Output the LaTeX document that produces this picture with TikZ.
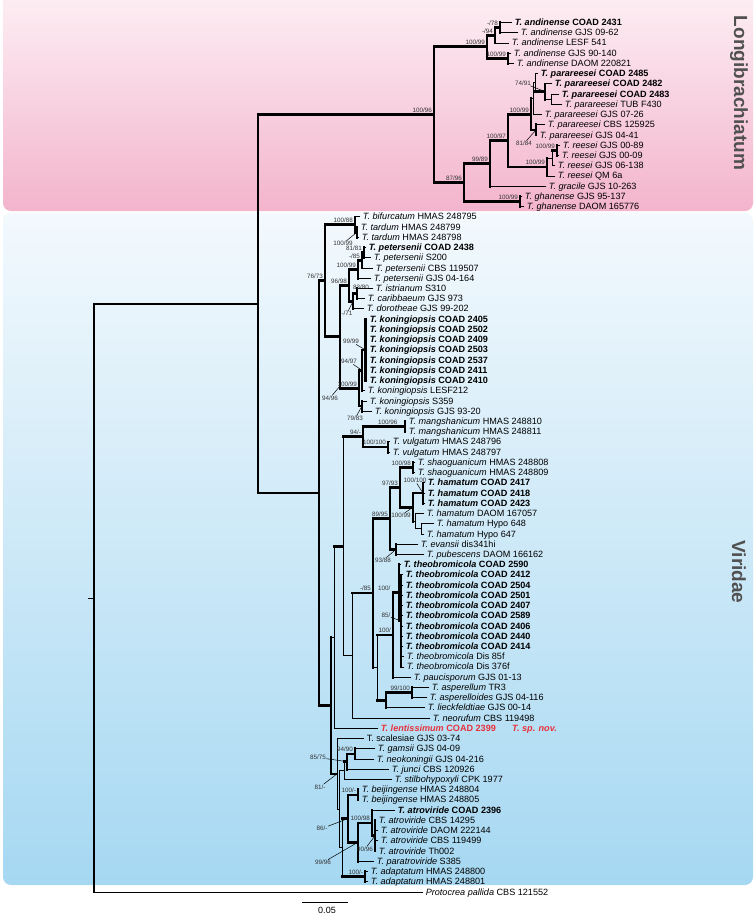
\documentclass[tikz,border=0pt]{standalone}
\usepackage{fontspec}
\setmainfont{Liberation Sans}
\usetikzlibrary{calc}
\definecolor{pinkTop}{HTML}{FDF0F5}
\definecolor{pinkBot}{HTML}{F3B4CC}
\definecolor{blueTop}{HTML}{F3F9FD}
\definecolor{blueBot}{HTML}{A6D8F2}
\definecolor{novred}{HTML}{E8313B}
\definecolor{supgray}{HTML}{333333}
\definecolor{grplab}{HTML}{505050}
\newcommand\tipn[4]{\coordinate (#1) at (#2,{22.5+10.23*#3});\node[tiplab] (#1l) at ([yshift=-3pt]#1) {#4};}
\newcommand\inode[4]{\coordinate (m#1) at ($(#3)!0.5!(#4)$);\coordinate (#1) at (#2,0|-m#1);}
\newcommand\vrt[4]{\draw[#1] (#2 |- #3) -- (#2 |- #4);}
\newcommand\hor[3]{\draw[#1] (#2 |- #3) -- (#3);}
\newcommand\slab[2]{\node[slabel,anchor=base east] (l#1) at ([xshift=-1.5pt,yshift=2.2pt]#1) {#2};}
\newcommand\slabL[5]{\node[slabel] (l#1) at (#2,#3) {#4};\draw[lead] (l#1) -- (#5);}
\tikzset{
 tb/.style={line width=0.9pt,line cap=rect},
 kb/.style={line width=2.7pt,line cap=rect},
 mb/.style={line width=1.6pt,line cap=rect},
 tiplab/.style={anchor=base west,inner sep=0pt,xshift=2.6pt,font=\fontsize{9.1}{10}\selectfont},
 slabel/.style={inner sep=0.4pt,font=\fontsize{6.3}{7}\selectfont,text=supgray},
 lead/.style={line width=0.5pt,shorten >=0.8pt},
 grp/.style={font=\fontsize{19}{21}\selectfont\bfseries,text=grplab},
}
\begin{document}
\begin{tikzpicture}[x=1pt,y=-1pt]
\useasboundingbox (0,0) rectangle (755,914);
\fill[white] (0,0) rectangle (755,914);
\shade[top color=pinkTop,bottom color=pinkBot,rounded corners=8pt] (3,-12) rectangle (753,211);
\shade[top color=blueTop,bottom color=blueBot,rounded corners=8pt] (3,212.5) rectangle (753,885);
\node[grp,rotate=-90] (glong) at (739,93) {Longibrachiatum};
\node[grp,rotate=-90] (gvir) at (739,572) {Viridae};
% ---- tips: Longibrachiatum
\tipn{a0}{512}{0}{\textbf{\textit{T. andinense} COAD 2431}}
\tipn{a1}{518}{1}{\textit{T. andinense} GJS 09-62}
\tipn{a2}{509}{2}{\textit{T. andinense} LESF 541}
\tipn{a3}{511}{3}{\textit{T. andinense} GJS 90-140}
\tipn{a4}{514}{4}{\textit{T. andinense} DAOM 220821}
\tipn{p0}{538}{5}{\textbf{\textit{T. parareesei} COAD 2485}}
\tipn{p1}{552}{6}{\textbf{\textit{T. parareesei} COAD 2482}}
\tipn{p2}{559}{7}{\textbf{\textit{T. parareesei} COAD 2483}}
\tipn{p3}{562}{8}{\textit{T. parareesei} TUB F430}
\tipn{p4}{542}{9}{\textit{T. parareesei} GJS 07-26}
\tipn{p5}{545}{10}{\textit{T. parareesei} CBS 125925}
\tipn{p6}{537}{11}{\textit{T. parareesei} GJS 04-41}
\tipn{r0}{560}{12}{\textit{T. reesei} GJS 00-89}
\tipn{r1}{559}{13}{\textit{T. reesei} GJS 00-09}
\tipn{r2}{555}{14}{\textit{T. reesei} GJS 06-138}
\tipn{r3}{555}{15}{\textit{T. reesei} QM 6a}
\tipn{g0}{546}{16}{\textit{T. gracile} GJS 10-263}
\tipn{h0}{522}{17}{\textit{T. ghanense} GJS 95-137}
\tipn{h1}{524}{18}{\textit{T. ghanense} DAOM 165776}
% ---- tips: Viridae
\tipn{v19}{360}{19}{\textit{T. bifurcatum} HMAS 248795}
\tipn{v20}{358}{20}{\textit{T. tardum} HMAS 248799}
\tipn{v21}{359}{21}{\textit{T. tardum} HMAS 248798}
\tipn{v22}{366}{22}{\textbf{\textit{T. petersenii} COAD 2438}}
\tipn{v23}{371}{23}{\textit{T. petersenii} S200}
\tipn{v24}{373}{24}{\textit{T. petersenii} CBS 119507}
\tipn{v25}{371}{25}{\textit{T. petersenii} GJS 04-164}
\tipn{v26}{373}{26}{\textit{T. istrianum} S310}
\tipn{v27}{365}{27}{\textit{T. caribbaeum} GJS 973}
\tipn{v28}{364}{28}{\textit{T. dorotheae} GJS 99-202}
\foreach \s [count=\k from 29] in {2405,2502,2409,2503,2537,2411,2410}
  {\tipn{v\k}{367}{\k}{\textbf{\textit{T. koningiopsis} COAD \s}}}
\tipn{v36}{365}{36}{\textit{T. koningiopsis} LESF212}
\tipn{v37}{367}{37}{\textit{T. koningiopsis} S359}
\tipn{v38}{372}{38}{\textit{T. koningiopsis} GJS 93-20}
\tipn{v39}{406}{39}{\textit{T. mangshanicum} HMAS 248810}
\tipn{v40}{406}{40}{\textit{T. mangshanicum} HMAS 248811}
\tipn{v41}{390}{41}{\textit{T. vulgatum} HMAS 248796}
\tipn{v42}{390}{42}{\textit{T. vulgatum} HMAS 248797}
\tipn{v43}{415}{43}{\textit{T. shaoguanicum} HMAS 248808}
\tipn{v44}{415}{44}{\textit{T. shaoguanicum} HMAS 248809}
\tipn{v45}{425}{45}{\textbf{\textit{T. hamatum} COAD 2417}}
\tipn{v46}{425}{46}{\textbf{\textit{T. hamatum} COAD 2418}}
\tipn{v47}{425}{47}{\textbf{\textit{T. hamatum} COAD 2423}}
\tipn{v48}{424}{48}{\textit{T. hamatum} DAOM 167057}
\tipn{v49}{434}{49}{\textit{T. hamatum} Hypo 648}
\tipn{v50}{424}{50}{\textit{T. hamatum} Hypo 647}
\tipn{v51}{418}{51}{\textit{T. evansii} dis341hi}
\tipn{v52}{424}{52}{\textit{T. pubescens} DAOM 166162}
\tipn{v53}{401}{53}{\textbf{\textit{T. theobromicola} COAD 2590}}
\foreach \s [count=\k from 54] in {2412,2504,2501,2407,2589,2406,2440,2414}
  {\tipn{v\k}{403}{\k}{\textbf{\textit{T. theobromicola} COAD \s}}}
\tipn{v62}{404}{62}{\textit{T. theobromicola} Dis 85f}
\tipn{v63}{404}{63}{\textit{T. theobromicola} Dis 376f}
\tipn{v64}{411}{64}{\textit{T. paucisporum} GJS 01-13}
\tipn{v65}{429}{65}{\textit{T. asperellum} TR3}
\tipn{v66}{427}{66}{\textit{T. asperelloides} GJS 04-116}
\tipn{v67}{425}{67}{\textit{T. lieckfeldtiae} GJS 00-14}
\tipn{v68}{430}{68}{\textit{T. neorufum} CBS 119498}
\tipn{v69}{378}{69}{\textcolor{novred}{\textbf{\textit{T. lentissimum} COAD 2399}}}
\node[tiplab,text=novred] (spnov) at (509.4,731.4) {\textbf{\textit{T. sp. nov.}}};
\tipn{v70}{364}{70}{T. scalesiae GJS 03-74}
\tipn{v71}{375}{71}{\textit{T. gamsii} GJS 04-09}
\tipn{v72}{374}{72}{\textit{T. neokoningii} GJS 04-216}
\tipn{v73}{389}{73}{\textit{T. junci} CBS 120926}
\tipn{v74}{392}{74}{\textit{T. stilbohypoxyli} CPK 1977}
\tipn{v75}{359}{75}{\textit{T. beijingense} HMAS 248804}
\tipn{v76}{359}{76}{\textit{T. beijingense} HMAS 248805}
\tipn{v77}{395}{77}{\textbf{\textit{T. atroviride} COAD 2396}}
\tipn{v78}{376}{78}{\textit{T. atroviride} CBS 14295}
\tipn{v79}{378}{79}{\textit{T. atroviride} DAOM 222144}
\tipn{v80}{378}{80}{\textit{T. atroviride} CBS 119499}
\tipn{v81}{376}{81}{\textit{T. atroviride} Th002}
\tipn{v82}{374}{82}{\textit{T. paratroviride} S385}
\tipn{v83}{368}{83}{\textit{T. adaptatum} HMAS 248800}
\tipn{v84}{368}{84}{\textit{T. adaptatum} HMAS 248801}
\tipn{v85}{423}{85}{\textit{Protocrea pallida} CBS 121552}
% ---- internal nodes: Longibrachiatum
\inode{A11}{500}{a0}{a1}
\inode{A1}{495}{A11}{a2}
\inode{A2}{508}{a3}{a4}
\inode{A}{487}{A1}{A2}
\inode{V}{551}{p2}{p3}
\inode{W}{545}{p1}{V}
\inode{Z}{535}{p0}{W}
\inode{X}{533}{Z}{p4}
\inode{Y}{536}{p5}{p6}
\inode{P}{531}{X}{Y}
\inode{R1}{557}{r0}{r1}
\inode{R2}{552}{R1}{r2}
\inode{R}{547}{R2}{r3}
\inode{B11}{508}{P}{R}
\inode{B1}{490}{B11}{g0}
\inode{G}{520}{h0}{h1}
\inode{B}{464}{B1}{G}
\inode{L0}{434}{A}{B}
% ---- internal nodes: Viridae
\inode{C111}{357}{v20}{v21}
\inode{C11}{355}{v19}{C111}
\inode{P1}{364}{v22}{v23}
\inode{P2}{362}{P1}{v24}
\inode{C1211}{358}{P2}{v25}
\inode{I83}{357}{v26}{v27}
\inode{C1212}{353}{I83}{v28}
\inode{C121}{349}{C1211}{C1212}
\inode{K11}{365.5}{v29}{v35}
\inode{K1}{362}{K11}{v36}
\inode{K2}{362}{v37}{v38}
\inode{C122}{359}{K1}{K2}
\inode{C12}{340}{C121}{C122}
\inode{C1}{325}{C11}{C12}
\inode{mang}{405}{v39}{v40}
\inode{vulg}{388}{v41}{v42}
\inode{M}{363}{mang}{vulg}
\inode{S}{413}{v43}{v44}
\inode{Hm1}{423}{v45}{v47}
\inode{Hp}{421}{v49}{v50}
\inode{Hx}{415}{v48}{Hp}
\inode{Hm}{413}{Hm1}{Hx}
\inode{H1}{400}{S}{Hm}
\inode{H2}{396}{v51}{v52}
\inode{H}{390}{H1}{H2}
\inode{Tb2}{401}{v54}{v63}
\inode{Tb}{399}{v53}{Tb2}
\inode{Tc}{393}{Tb}{v64}
\inode{As}{412}{v65}{v66}
\inode{T1}{386}{As}{v67}
\inode{T0}{377}{Tc}{T1}
\inode{N21}{373}{H}{T0}
\inode{N2}{352}{N21}{v68}
\inode{N1}{343}{M}{N2}
\inode{N0}{334}{N1}{v69}
\inode{Gm}{355}{v71}{v72}
\inode{Q11}{347}{Gm}{v73}
\inode{Q12}{344}{Q11}{v74}
\inode{Bj}{358}{v75}{v76}
\inode{At2}{375}{v78}{v81}
\inode{At1}{372}{v77}{At2}
\inode{At}{358}{At1}{v82}
\inode{Q21}{348}{Bj}{At}
\inode{Ad}{365}{v83}{v84}
\inode{Q2}{342}{Q21}{Ad}
\inode{X2}{339.5}{Q12}{Q2}
\inode{Q}{337}{v70}{X2}
\inode{N00}{331}{N0}{Q}
\inode{V0}{319}{C1}{N00}
\inode{Core}{258}{L0}{V0}
\inode{R0}{94}{Core}{v85}
% ---- root
\coordinate (rstub) at (88,0|-R0);
\draw[tb] (rstub) -- (R0);
\draw[line width=1.3pt,line cap=rect] (R0 |- Core) -- (R0 |- v85);
\hor{mb}{R0}{Core} \hor{tb}{R0}{v85}
\vrt{kb}{Core}{L0}{V0} \hor{kb}{Core}{L0} \hor{kb}{Core}{V0}
% ---- Longibrachiatum branches
\vrt{kb}{L0}{A}{B} \hor{kb}{L0}{A} \hor{kb}{L0}{B}
\vrt{kb}{A}{A1}{A2} \hor{kb}{A}{A1} \hor{kb}{A}{A2}
\vrt{kb}{A1}{A11}{a2} \hor{kb}{A1}{A11} \hor{tb}{A1}{a2}
\vrt{kb}{A11}{a0}{a1} \hor{tb}{A11}{a0} \hor{tb}{A11}{a1}
\vrt{kb}{A2}{a3}{a4} \hor{tb}{A2}{a3} \hor{tb}{A2}{a4}
\vrt{kb}{B}{B1}{G} \hor{kb}{B}{B1} \hor{kb}{B}{G}
\vrt{kb}{B1}{B11}{g0} \hor{kb}{B1}{B11} \hor{tb}{B1}{g0}
\vrt{kb}{B11}{P}{R} \hor{kb}{B11}{P} \hor{kb}{B11}{R}
\vrt{kb}{P}{X}{Y} \hor{tb}{P}{X} \hor{kb}{P}{Y}
\vrt{tb}{X}{Z}{p4} \hor{tb}{X}{Z} \hor{tb}{X}{p4}
\vrt{tb}{Z}{p0}{W} \hor{tb}{Z}{p0} \hor{kb}{Z}{W}
\vrt{kb}{W}{p1}{V} \hor{tb}{W}{p1} \hor{tb}{W}{V}
\vrt{tb}{V}{p2}{p3} \hor{tb}{V}{p2} \hor{tb}{V}{p3}
\vrt{kb}{Y}{p5}{p6} \hor{tb}{Y}{p5} \hor{tb}{Y}{p6}
\vrt{kb}{R}{R2}{r3} \hor{tb}{R}{R2} \hor{tb}{R}{r3}
\vrt{tb}{R2}{R1}{r2} \hor{kb}{R2}{R1} \hor{tb}{R2}{r2}
\vrt{kb}{R1}{r0}{r1} \hor{tb}{R1}{r0} \hor{tb}{R1}{r1}
\vrt{kb}{G}{h0}{h1} \hor{tb}{G}{h0} \hor{tb}{G}{h1}
% ---- Viridae branches
\vrt{kb}{V0}{C1}{N00} \hor{kb}{V0}{C1} \hor{kb}{V0}{N00}
\vrt{kb}{C1}{C11}{C12} \hor{kb}{C1}{C11} \hor{kb}{C1}{C12}
\vrt{kb}{C11}{v19}{C111} \hor{tb}{C11}{v19} \hor{kb}{C11}{C111}
\vrt{kb}{C111}{v20}{v21} \hor{tb}{C111}{v20} \hor{tb}{C111}{v21}
\vrt{kb}{C12}{C121}{C122} \hor{kb}{C12}{C121} \hor{kb}{C12}{C122}
\vrt{kb}{C121}{C1211}{C1212} \hor{kb}{C121}{C1211} \hor{kb}{C121}{C1212}
\vrt{kb}{C1211}{P2}{v25} \hor{kb}{C1211}{P2} \hor{tb}{C1211}{v25}
\vrt{kb}{P2}{P1}{v24} \hor{kb}{P2}{P1} \hor{tb}{P2}{v24}
\vrt{kb}{P1}{v22}{v23} \hor{tb}{P1}{v22} \hor{tb}{P1}{v23}
\vrt{kb}{C1212}{I83}{v28} \hor{kb}{C1212}{I83} \hor{tb}{C1212}{v28}
\vrt{kb}{I83}{v26}{v27} \hor{tb}{I83}{v26} \hor{tb}{I83}{v27}
\vrt{kb}{C122}{K1}{K2} \hor{kb}{C122}{K1} \hor{kb}{C122}{K2}
\vrt{kb}{K1}{K11}{v36} \hor{kb}{K1}{K11} \hor{tb}{K1}{v36}
\vrt{kb}{K11}{v29}{v35} \foreach \k in {29,...,35}{\hor{tb}{K11}{v\k}}
\vrt{kb}{K2}{v37}{v38} \hor{tb}{K2}{v37} \hor{tb}{K2}{v38}
\vrt{kb}{N00}{N0}{Q} \hor{tb}{N00}{N0} \hor{kb}{N00}{Q}
\vrt{tb}{N0}{N1}{v69} \hor{kb}{N0}{N1} \hor{tb}{N0}{v69}
\vrt{tb}{N1}{M}{N2} \hor{kb}{N1}{M} \hor{tb}{N1}{N2}
\vrt{kb}{M}{mang}{vulg} \hor{kb}{M}{mang} \hor{kb}{M}{vulg}
\vrt{kb}{mang}{v39}{v40} \hor{tb}{mang}{v39} \hor{tb}{mang}{v40}
\vrt{kb}{vulg}{v41}{v42} \hor{tb}{vulg}{v41} \hor{tb}{vulg}{v42}
\vrt{tb}{N2}{N21}{v68} \hor{kb}{N2}{N21} \hor{tb}{N2}{v68}
\vrt{kb}{N21}{H}{T0} \hor{kb}{N21}{H} \hor{tb}{N21}{T0}
\vrt{kb}{H}{H1}{H2} \hor{kb}{H}{H1} \hor{kb}{H}{H2}
\vrt{kb}{H1}{S}{Hm} \hor{kb}{H1}{S} \hor{kb}{H1}{Hm}
\vrt{kb}{S}{v43}{v44} \hor{tb}{S}{v43} \hor{tb}{S}{v44}
\vrt{kb}{Hm}{Hm1}{Hx} \hor{kb}{Hm}{Hm1} \hor{tb}{Hm}{Hx}
\vrt{kb}{Hm1}{v45}{v47} \hor{tb}{Hm1}{v45} \hor{tb}{Hm1}{v46} \hor{tb}{Hm1}{v47}
\vrt{tb}{Hx}{v48}{Hp} \hor{tb}{Hx}{v48} \hor{tb}{Hx}{Hp}
\vrt{tb}{Hp}{v49}{v50} \hor{tb}{Hp}{v49} \hor{tb}{Hp}{v50}
\vrt{kb}{H2}{v51}{v52} \hor{tb}{H2}{v51} \hor{tb}{H2}{v52}
\vrt{tb}{T0}{Tc}{T1} \hor{kb}{T0}{Tc} \hor{kb}{T0}{T1}
\vrt{kb}{Tc}{Tb}{v64} \hor{kb}{Tc}{Tb} \hor{tb}{Tc}{v64}
\vrt{kb}{Tb}{v53}{Tb2} \hor{tb}{Tb}{v53} \hor{mb}{Tb}{Tb2}
\vrt{mb}{Tb2}{v54}{v63} \foreach \k in {54,...,63}{\hor{tb}{Tb2}{v\k}}
\vrt{kb}{T1}{As}{v67} \hor{kb}{T1}{As} \hor{tb}{T1}{v67}
\vrt{kb}{As}{v65}{v66} \hor{tb}{As}{v65} \hor{tb}{As}{v66}
\vrt{tb}{Q}{v70}{X2} \hor{tb}{Q}{v70} \hor{tb}{Q}{X2}
\vrt{tb}{X2}{Q12}{Q2} \hor{tb}{X2}{Q12} \hor{tb}{X2}{Q2}
\vrt{tb}{Q12}{Q11}{v74} \hor{kb}{Q12}{Q11} \hor{tb}{Q12}{v74}
\vrt{kb}{Q11}{Gm}{v73} \hor{kb}{Q11}{Gm} \hor{tb}{Q11}{v73}
\vrt{kb}{Gm}{v71}{v72} \hor{tb}{Gm}{v71} \hor{tb}{Gm}{v72}
\vrt{tb}{Q2}{Q21}{Ad} \hor{kb}{Q2}{Q21} \hor{kb}{Q2}{Ad}
\vrt{kb}{Q21}{Bj}{At} \hor{kb}{Q21}{Bj} \hor{kb}{Q21}{At}
\vrt{kb}{Bj}{v75}{v76} \hor{tb}{Bj}{v75} \hor{tb}{Bj}{v76}
\vrt{kb}{At}{At1}{v82} \hor{kb}{At}{At1} \hor{tb}{At}{v82}
\vrt{kb}{At1}{v77}{At2} \hor{tb}{At1}{v77} \hor{kb}{At1}{At2}
\vrt{kb}{At2}{v78}{v81} \foreach \k in {78,...,81}{\hor{tb}{At2}{v\k}}
\vrt{kb}{Ad}{v83}{v84} \hor{tb}{Ad}{v83} \hor{tb}{Ad}{v84}
% ---- support labels: Longibrachiatum
\slab{L0}{100/96}
\slab{A}{100/99}
\slab{A1}{-/94}
\slab{A11}{-/78}
\slab{A2}{100/99}
\slab{P}{100/99}
\slab{B11}{100/97}
\slab{B1}{99/89}
\slab{B}{87/96}
\slab{R}{100/99}
\slab{R1}{100/99}
\slab{G}{100/99}
\slabL{W}{523}{83}{74/91}{W}
\slabL{Y}{524}{143.5}{81/84}{Y}
% ---- support labels: Viridae
\slab{C1}{76/73}
\slab{C11}{100/88}
\slabL{C111}{343}{243.5}{100/99}{C111}
\slab{P1}{81/81}
\slab{P2}{-/85}
\slab{C1211}{100/99}
\slab{C121}{96/98}
\node[slabel] (lI83) at (361,287) {83/80};
\slabL{C1212}{347}{313.5}{-/71}{C1212}
\coordinate (c12p) at (340,386);
\slabL{C12}{330}{398}{94/96}{c12p}
\slabL{K11}{351}{341.5}{99/99}{K11}
\slabL{K1}{349}{361.5}{94/97}{K1}
\slab{C122}{100/99}
\slabL{K2}{355}{418.5}{79/83}{K2}
\slab{M}{94/-}
\node[slabel,anchor=base east] (lmang) at (398,424.4) {100/96};
\slab{vulg}{100/100}
\slab{S}{100/98}
\slabL{Hm1}{415}{480.5}{100/100}{Hm1}
\slabL{Hm}{401}{515.5}{100/99}{Hm}
\slab{H1}{97/93}
\slab{H}{89/95}
\slabL{H2}{383}{560.5}{93/88}{H2}
\slab{N21}{-/85}
\node[slabel,anchor=base east] (lTb) at (391,590.6) {100/};
\slabL{Tb2}{386}{615.5}{85/}{Tb2}
\slab{Tc}{100/}
\slab{As}{99/100}
\slabL{Q}{320}{787}{81/-}{Q}
\slab{Gm}{94/90}
\slabL{Q11}{318}{757.5}{85/75}{Q11}
\slab{Bj}{100/-}
\slabL{Q21}{322}{828.5}{86/-}{Q21}
\slab{At1}{100/98}
\slabL{At2}{365}{849}{90/96}{At2}
\slabL{At}{323}{862.5}{99/96}{At}
\slab{Ad}{100/-}
% ---- scale bar
\coordinate (sb1) at (302,902.5);
\coordinate (sb2) at (348,902.5);
\draw[line width=1pt] (sb1) -- (sb2);
\node[font=\fontsize{9}{10}\selectfont,inner sep=0pt] (sblab) at (327,910) {0.05};
\end{tikzpicture}
\end{document}
